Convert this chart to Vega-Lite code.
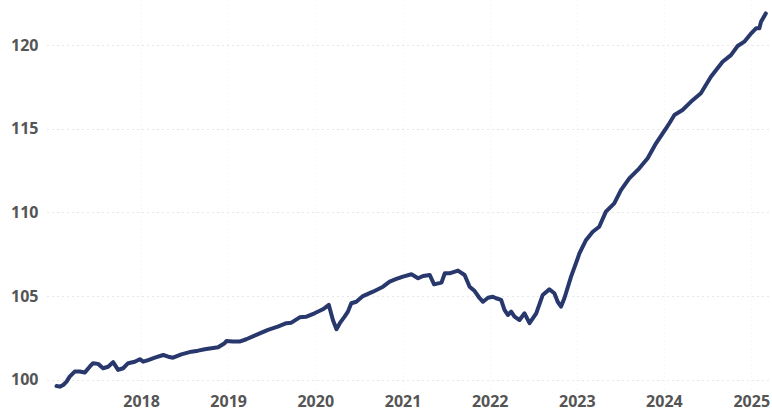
{
  "$schema": "https://vega.github.io/schema/vega-lite/v6.json",
  "width": 725,
  "height": 390,
  "autosize": "none",
  "padding": {"left": 47, "top": 0, "right": 0, "bottom": 20},
  "background": "white",
  "config": {"view": {"stroke": null}},
  "data": {"values": [
    {"date": "2017-01-12", "value": 99.64},
    {"date": "2017-01-26", "value": 99.60},
    {"date": "2017-02-09", "value": 99.70},
    {"date": "2017-02-23", "value": 99.90},
    {"date": "2017-03-08", "value": 100.20},
    {"date": "2017-03-29", "value": 100.50},
    {"date": "2017-04-19", "value": 100.50},
    {"date": "2017-05-10", "value": 100.44},
    {"date": "2017-05-31", "value": 100.79},
    {"date": "2017-06-14", "value": 101.00},
    {"date": "2017-07-05", "value": 100.96},
    {"date": "2017-07-26", "value": 100.70},
    {"date": "2017-08-16", "value": 100.79},
    {"date": "2017-09-06", "value": 101.06},
    {"date": "2017-09-27", "value": 100.60},
    {"date": "2017-10-18", "value": 100.70},
    {"date": "2017-11-08", "value": 101.00},
    {"date": "2017-12-06", "value": 101.09},
    {"date": "2017-12-27", "value": 101.24},
    {"date": "2018-01-10", "value": 101.09},
    {"date": "2018-01-31", "value": 101.19},
    {"date": "2018-02-28", "value": 101.33},
    {"date": "2018-04-04", "value": 101.49},
    {"date": "2018-04-25", "value": 101.39},
    {"date": "2018-05-15", "value": 101.33},
    {"date": "2018-06-19", "value": 101.53},
    {"date": "2018-07-31", "value": 101.69},
    {"date": "2018-08-28", "value": 101.75},
    {"date": "2018-09-25", "value": 101.83},
    {"date": "2018-10-23", "value": 101.89},
    {"date": "2018-11-20", "value": 101.95},
    {"date": "2018-12-17", "value": 102.19},
    {"date": "2018-12-25", "value": 102.33},
    {"date": "2019-01-21", "value": 102.29},
    {"date": "2019-02-18", "value": 102.29},
    {"date": "2019-03-18", "value": 102.43},
    {"date": "2019-04-29", "value": 102.69},
    {"date": "2019-06-17", "value": 102.99},
    {"date": "2019-07-28", "value": 103.18},
    {"date": "2019-09-02", "value": 103.39},
    {"date": "2019-09-23", "value": 103.42},
    {"date": "2019-10-28", "value": 103.74},
    {"date": "2019-11-25", "value": 103.78},
    {"date": "2019-12-29", "value": 103.98},
    {"date": "2020-02-02", "value": 104.22},
    {"date": "2020-02-27", "value": 104.48},
    {"date": "2020-03-15", "value": 103.58},
    {"date": "2020-03-30", "value": 103.03},
    {"date": "2020-04-13", "value": 103.39},
    {"date": "2020-05-03", "value": 103.78},
    {"date": "2020-05-17", "value": 104.08},
    {"date": "2020-05-31", "value": 104.58},
    {"date": "2020-06-21", "value": 104.67},
    {"date": "2020-07-19", "value": 105.01},
    {"date": "2020-08-30", "value": 105.27},
    {"date": "2020-10-11", "value": 105.57},
    {"date": "2020-11-08", "value": 105.87},
    {"date": "2020-12-06", "value": 106.03},
    {"date": "2021-01-03", "value": 106.17},
    {"date": "2021-02-07", "value": 106.31},
    {"date": "2021-03-07", "value": 106.07},
    {"date": "2021-03-28", "value": 106.21},
    {"date": "2021-04-25", "value": 106.27},
    {"date": "2021-05-13", "value": 105.71},
    {"date": "2021-06-13", "value": 105.81},
    {"date": "2021-06-27", "value": 106.37},
    {"date": "2021-07-17", "value": 106.37},
    {"date": "2021-08-21", "value": 106.53},
    {"date": "2021-09-18", "value": 106.27},
    {"date": "2021-10-09", "value": 105.57},
    {"date": "2021-10-30", "value": 105.31},
    {"date": "2021-11-20", "value": 104.88},
    {"date": "2021-12-04", "value": 104.67},
    {"date": "2021-12-25", "value": 104.91},
    {"date": "2022-01-14", "value": 104.97},
    {"date": "2022-01-28", "value": 104.88},
    {"date": "2022-02-18", "value": 104.78},
    {"date": "2022-03-04", "value": 104.18},
    {"date": "2022-03-18", "value": 103.88},
    {"date": "2022-04-01", "value": 104.08},
    {"date": "2022-04-15", "value": 103.78},
    {"date": "2022-05-06", "value": 103.58},
    {"date": "2022-05-27", "value": 103.98},
    {"date": "2022-06-17", "value": 103.39},
    {"date": "2022-07-15", "value": 103.98},
    {"date": "2022-08-11", "value": 105.07},
    {"date": "2022-09-08", "value": 105.41},
    {"date": "2022-09-29", "value": 105.18},
    {"date": "2022-10-13", "value": 104.67},
    {"date": "2022-10-27", "value": 104.38},
    {"date": "2022-11-10", "value": 104.88},
    {"date": "2022-12-08", "value": 106.17},
    {"date": "2023-01-05", "value": 107.27},
    {"date": "2023-01-12", "value": 107.56},
    {"date": "2023-02-09", "value": 108.36},
    {"date": "2023-03-09", "value": 108.85},
    {"date": "2023-04-05", "value": 109.15},
    {"date": "2023-05-03", "value": 110.05},
    {"date": "2023-06-07", "value": 110.55},
    {"date": "2023-07-05", "value": 111.34},
    {"date": "2023-08-09", "value": 112.04},
    {"date": "2023-09-20", "value": 112.64},
    {"date": "2023-10-25", "value": 113.24},
    {"date": "2023-11-29", "value": 114.13},
    {"date": "2024-01-10", "value": 115.03},
    {"date": "2024-01-24", "value": 115.33},
    {"date": "2024-02-14", "value": 115.82},
    {"date": "2024-03-19", "value": 116.12},
    {"date": "2024-04-23", "value": 116.61},
    {"date": "2024-06-04", "value": 117.12},
    {"date": "2024-07-16", "value": 118.11},
    {"date": "2024-09-03", "value": 119.00},
    {"date": "2024-10-08", "value": 119.40},
    {"date": "2024-11-05", "value": 119.94},
    {"date": "2024-12-03", "value": 120.20},
    {"date": "2025-01-01", "value": 120.70},
    {"date": "2025-01-21", "value": 121.00},
    {"date": "2025-02-04", "value": 121.00},
    {"date": "2025-02-11", "value": 121.39},
    {"date": "2025-03-03", "value": 121.89}
  ]},
  "mark": {"type": "line", "color": "#28386c", "strokeWidth": 4, "strokeJoin": "round", "strokeCap": "round"},
  "encoding": {
    "x": {
      "field": "date",
      "type": "temporal",
      "scale": {"type": "utc", "domain": [{"year": 2016, "month": 12, "date": 3, "utc": true}, {"year": 2025, "month": 3, "date": 29, "utc": true}]},
      "axis": {
        "title": null,
        "format": "%Y",
        "values": [{"year": 2018, "month": 1, "date": 1, "utc": true}, {"year": 2019, "month": 1, "date": 1, "utc": true}, {"year": 2020, "month": 1, "date": 1, "utc": true}, {"year": 2021, "month": 1, "date": 1, "utc": true}, {"year": 2022, "month": 1, "date": 1, "utc": true}, {"year": 2023, "month": 1, "date": 1, "utc": true}, {"year": 2024, "month": 1, "date": 1, "utc": true}, {"year": 2025, "month": 1, "date": 1, "utc": true}],
        "domain": false,
        "ticks": false,
        "labelPadding": 3,
        "labelFont": "Open Sans",
        "labelFontSize": 16,
        "labelFontWeight": "bold",
        "labelColor": "#555555",
        "gridColor": "#eeeeee",
        "gridDash": [1, 3],
        "gridWidth": 1
      }
    },
    "y": {
      "field": "value",
      "type": "quantitative",
      "scale": {"domain": [99.4, 122.69], "nice": false, "zero": false},
      "axis": {
        "title": null,
        "values": [100, 105, 110, 115, 120],
        "domain": false,
        "ticks": false,
        "labelPadding": 9,
        "labelFont": "Open Sans",
        "labelFontSize": 16,
        "labelFontWeight": "bold",
        "labelColor": "#555555",
        "gridColor": "#cfcfcf",
        "gridDash": [1, 4],
        "gridWidth": 1
      }
    }
  }
}
